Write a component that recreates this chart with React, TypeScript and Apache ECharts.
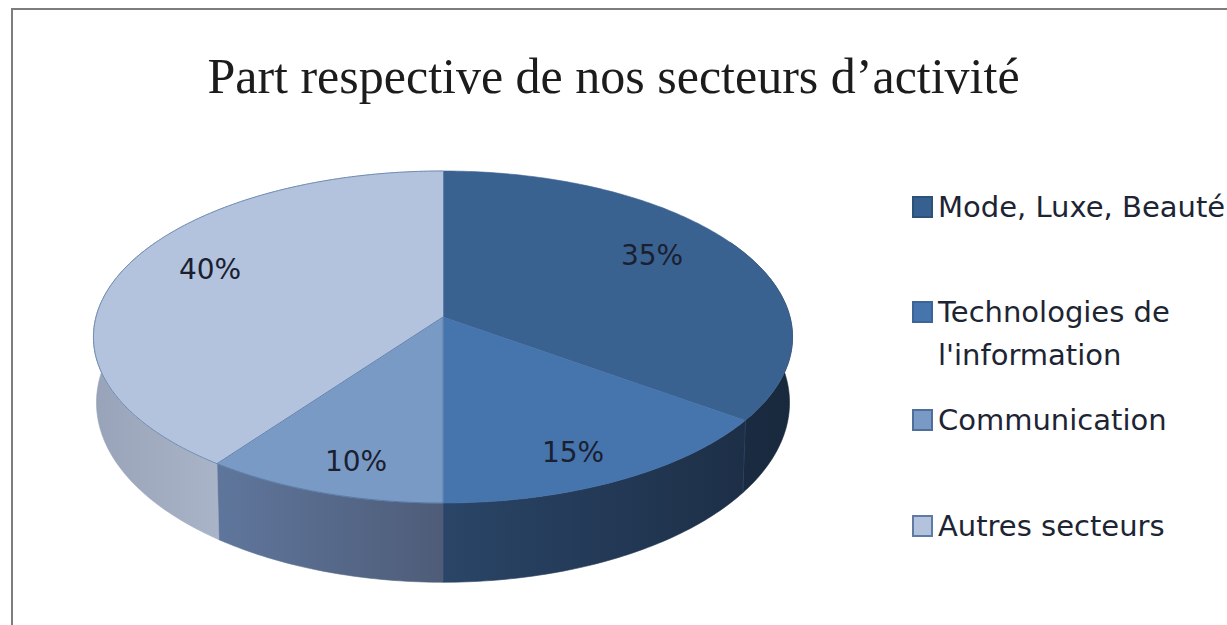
import React, { useEffect, useRef } from "react";
import * as echarts from "echarts";

// ---- data ----
const categories = ["Mode, Luxe, Beauté", "Technologies de l'information", "Communication", "Autres secteurs"];
const legendLines = [["Mode, Luxe, Beauté"], ["Technologies de", "l'information"], ["Communication"], ["Autres secteurs"]];
const shares = [35, 15, 10, 40];
const titleText = "Part respective de nos secteurs d’activité";

// ---- styles ----
const faceColors = ["#3a6291", "#4674ad", "#7a9ac6", "#b3c3de"];
const radialEdges = [null, null, "#5f82ad", "#5f82ad"];
const rimEdges = [null, null, "#5a7aa6", "#6f8cb2"];
const legendColors = ["#35608f", "#4674ad", "#7a9ac6", "#b3c3de"];
const legendBorders = ["#2d5277", "#3c6494", "#4f6e9c", "#5f7aa3"];
const wallStops = [
  ["#1b2c42", "#18293e"],
  ["#2a4567", "#1d2f47"],
  ["#5f769c", "#4e5c78"],
  ["#98a3b9", "#aab4c8"],
];
const wallEndEdges = ["#39587f", null, "#4f6c96", null];
const labelPositions = [[652, 255], [573, 452], [356, 461], [210, 269]];
const legendRows = [207, 312, 420, 526];
const legendLine = 43;
const LABEL_FONT = '28px "DejaVu Sans"';
const LEGEND_FONT = '29px "DejaVu Sans"';

// perspective disc: projected from a unit circle
const K = 0.1205;
const TOP = { cx: 443, cy: 317, a: 347, b: 163.6 };
const BOTTOM = { cx: 443, cy: 381, a: 344, b: 177 };
const project = (d: typeof TOP, share: number) => {
  const th = (share / 100) * Math.PI * 2;
  const u = Math.sin(th);
  const v = -Math.cos(th);
  const w = 1 - K * v;
  return [d.cx + (d.a * u) / w, d.cy + (d.b * v) / w];
};
const arc = (d: typeof TOP, from: number, to: number) => {
  const n = Math.max(2, Math.ceil(Math.abs(to - from) * 4));
  const pts: number[][] = [];
  for (let i = 0; i <= n; i++) pts.push(project(d, from + ((to - from) * i) / n));
  return pts;
};
const WALL_FROM = 17; // back limit of the visible wall, in percent of the turn
const WALL_TO = 83;

const renderSlice = (idx: number) => (_params: any, api: any) => {
  const start = api.value(0);
  const end = api.value(1);
  const children: any[] = [];
  const wFrom = Math.max(start, WALL_FROM);
  const wTo = Math.min(end, WALL_TO);
  if (wTo > wFrom) {
    const pts = [...arc(TOP, wFrom, wTo), ...arc(BOTTOM, wFrom, wTo).reverse()];
    const grad = {
      type: "linear", x: 0, y: 0, x2: 1, y2: 0,
      colorStops: [
        { offset: 0, color: wallStops[idx][0] },
        { offset: 1, color: wallStops[idx][1] },
      ],
    };
    children.push({ type: "polygon", shape: { points: pts }, style: { fill: grad, stroke: grad, lineWidth: 0.6 } });
    if (wallEndEdges[idx]) {
      children.push({
        type: "polyline",
        shape: { points: [project(TOP, wTo), project(BOTTOM, wTo)] },
        style: { stroke: wallEndEdges[idx], lineWidth: 1.2, fill: "none" },
      });
    }
  }
  children.push({
    type: "polygon",
    shape: { points: [[TOP.cx, TOP.cy], ...arc(TOP, start, end)] },
    style: { fill: faceColors[idx], stroke: faceColors[idx], lineWidth: 0.6 },
  });
  if (radialEdges[idx]) {
    children.push({
      type: "polyline",
      shape: { points: [project(TOP, start), [TOP.cx, TOP.cy]] },
      style: { stroke: radialEdges[idx], lineWidth: 1, fill: "none" },
    });
  }
  if (rimEdges[idx]) {
    children.push({
      type: "polyline",
      shape: { points: arc(TOP, start, end) },
      style: { stroke: rimEdges[idx], lineWidth: 1, fill: "none" },
    });
  }
  children.push({
    type: "text",
    style: {
      text: api.value(2) + "%",
      x: labelPositions[idx][0],
      y: labelPositions[idx][1],
      align: "center",
      verticalAlign: "middle",
      font: LABEL_FONT,
      fill: "#1a2030",
    },
  });
  return { type: "group", children };
};

export default function App() {
  const ref = useRef<HTMLDivElement>(null);
  useEffect(() => {
    document.body.style.margin = "0";
    const chart = echarts.init(ref.current!, null, { renderer: "svg" });
    let acc = 0;
    const series = categories.map((name, i) => {
      const s = acc;
      acc += shares[i];
      return {
        type: "custom",
        name,
        coordinateSystem: "none",
        silent: true,
        renderItem: renderSlice(i),
        data: [[s, acc, shares[i]]],
      };
    });
    const legendGraphics: any[] = [];
    legendLines.forEach((lines, i) => {
      legendGraphics.push({
        type: "rect",
        shape: { x: 913, y: legendRows[i] - 10, width: 19, height: 20 },
        style: { fill: legendColors[i], stroke: legendBorders[i], lineWidth: 2 },
      });
      legendGraphics.push({
        type: "text",
        style: {
          text: lines.join("\n"),
          x: 938,
          y: legendRows[i] - legendLine / 2,
          font: LEGEND_FONT,
          lineHeight: legendLine,
          fill: "#1d2433",
          align: "left",
          verticalAlign: "top",
        },
      });
    });
    chart.setOption({
      animation: false,
      backgroundColor: "#ffffff",
      title: {
        text: titleText,
        left: "center",
        top: 46,
        textStyle: { fontFamily: "Liberation Serif", fontSize: 50, fontWeight: "normal", color: "#1c1c1c" },
      },
      graphic: [
        {
          type: "polyline",
          shape: { points: [[12, 625], [12, 9], [1227, 9]] },
          style: { stroke: "#7d7d7d", lineWidth: 2, fill: "none" },
        },
        ...legendGraphics,
      ],
      series,
    });
    return () => chart.dispose();
  }, []);
  return <div ref={ref} style={{ width: 1227, height: 625 }} />;
}
